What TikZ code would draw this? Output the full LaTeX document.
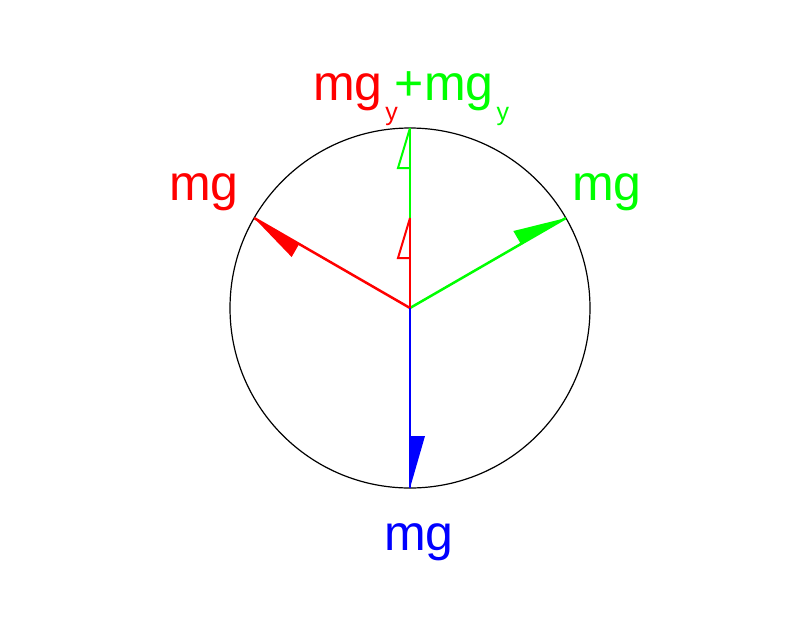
\documentclass[tikz,border=0pt]{standalone}
\usepackage{fontspec}
\setmainfont{Liberation Sans}
\usetikzlibrary{calc}
\definecolor{fred}{RGB}{255,0,0}
\definecolor{fgreen}{RGB}{0,255,0}
\definecolor{fblue}{RGB}{0,0,255}
\newcommand{\subsy}{\kern3pt\raisebox{-20pt}{\fontsize{25}{30}\selectfont y}}
\begin{document}
\begin{tikzpicture}[x=1pt,y=-1pt,
  vec/.style={line width=2.5pt},
  comp/.style={line width=2pt,line join=miter},
  lbl/.style={anchor=base west,inner sep=0pt,outer sep=0pt,font=\fontsize{50}{60}\selectfont}]
\useasboundingbox (0,0) rectangle (800,619);
\coordinate (C) at (410,308);
\node[circle,draw=black,line width=1.2pt,minimum size=360pt,inner sep=0pt,outer sep=0pt] (ring) at (C) {};
\coordinate (R) at (ring.150);
\coordinate (G) at (ring.30);
\coordinate (B) at (ring.south);
\coordinate (T) at (ring.north);
\coordinate (P) at (C |- R);
% main vectors
\draw[vec,fred] (C) -- (R);
\draw[vec,fgreen] (C) -- (G);
\draw[vec,fblue] (C) -- (B);
\draw[vec,fred] (C) -- (P);
\draw[vec,fgreen] (P) -- (T);
% filled half arrowheads
\coordinate (Rb) at ($(R)!52pt!(C)$);
\coordinate (Rw) at ($(Rb)!15pt!90:(R)$);
\fill[fred] (R) -- (Rb) -- (Rw) -- cycle;
\coordinate (Gb) at ($(G)!52pt!(C)$);
\coordinate (Gw) at ($(Gb)!15pt!90:(G)$);
\fill[fgreen] (G) -- (Gb) -- (Gw) -- cycle;
\coordinate (Bb) at ($(B)!52pt!(C)$);
\coordinate (Bw) at ($(Bb)!15pt!90:(B)$);
\fill[fblue] (B) -- (Bb) -- (Bw) -- cycle;
% open half arrowheads on components
\coordinate (Pb) at ($(P)!40pt!(C)$);
\coordinate (Pw) at ($(Pb)!12pt!90:(P)$);
\draw[comp,fred] (P) -- (Pw) -- (Pb);
\coordinate (Tb) at ($(T)!40pt!(P)$);
\coordinate (Tw) at ($(Tb)!12pt!90:(T)$);
\draw[comp,fgreen] (T) -- (Tw) -- (Tb);
% labels
\node[lbl,text=fred] (lr) at (169,200) {mg};
\node[lbl,text=fgreen] (lg) at (572,200) {mg};
\node[lbl,text=fblue] (lb) at (384,550) {mg};
\node[lbl] (lt) at (313,100) {\color{fred}mg\subsy\color{fgreen}\kern-3pt+mg\subsy};
\end{tikzpicture}
\end{document}
